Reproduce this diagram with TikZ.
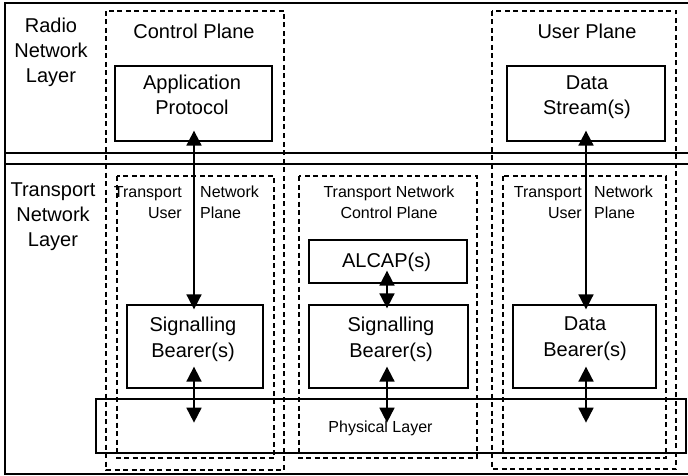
\documentclass[tikz,border=0pt]{standalone}
\usepackage{fontspec}
\setmainfont{Liberation Sans}
\usetikzlibrary{arrows.meta,calc}
\tikzset{
  frameline/.style={line width=1.8pt},
  layerline/.style={line width=1.3pt},
  box/.style={draw, line width=1.3pt, inner sep=0pt},
  group/.style={draw, dash pattern=on 5pt off 3.5pt, line width=1.2pt},
  big/.style={font=\fontsize{20}{25}\selectfont, align=center, inner sep=0pt},
  bigw/.style={font=\fontsize{20}{26}\selectfont, align=center, inner sep=0pt},
  small/.style={font=\fontsize{16}{21}\selectfont, inner sep=0pt},
  link/.style={line width=1.8pt,
    {Triangle[width=15pt,length=15pt]}-{Triangle[width=15pt,length=15pt]}},
}
\begin{document}
\begin{tikzpicture}[x=1pt,y=-1pt]
\useasboundingbox (0,0) rectangle (688,476);

% outer frame (open on the right) and layer separator
\draw[frameline] (688,3) -- (5,3) -- (5,474) -- (688,474);
\draw[layerline] (5,153) -- (688,153);
\draw[layerline] (5,164) -- (688,164);

% layer titles
\node[big] (rnl) at (51,52) {Radio\\Network\\Layer};
\node[big] (tnl) at (53,217) {Transport\\Network\\Layer};

% plane groups
\draw[group] (106,11) rectangle (284,470);
\draw[group] (492,11) rectangle (676,469);
\draw[group] (117,176) rectangle (274,458);
\draw[group] (299,176) rectangle (477,458);
\draw[group] (503,176) rectangle (666,458);

\node[big] (cpt) at (194,31) {Control Plane};
\node[big] (upt) at (587,31) {User Plane};

% group captions in the transport layer
\node[small, align=right, anchor=east] (tnu1a) at (182,202.4) {Transport\\User};
\node[small, align=left, anchor=west] (tnu1b) at (200,202.4) {Network\\Plane};
\node[small, align=center] (tncp) at (389,202.5) {Transport Network\\Control Plane};
\node[small, align=right, anchor=east] (tnu2a) at (582,202.4) {Transport\\User};
\node[small, align=left, anchor=west] (tnu2b) at (594,202.4) {Network\\Plane};

% protocol boxes
\node[box, minimum width=157pt, minimum height=75pt] (app) at (193.5,103.5) {};
\node[box, minimum width=158pt, minimum height=75pt] (dstream) at (586,103.5) {};
\node[box, minimum width=136pt, minimum height=83pt] (sb1) at (195,346.5) {};
\node[box, minimum width=158pt, minimum height=43pt] (alcap) at (388,261.5) {};
\node[box, minimum width=159pt, minimum height=83pt] (sb2) at (388.5,346.5) {};
\node[box, minimum width=143pt, minimum height=83pt] (db) at (584.5,346.5) {};
\node[box, minimum width=590pt, minimum height=54pt, line width=1.1pt] (phys) at (391,426) {};

\node[big] (appt) at (192,95.3) {Application\\Protocol};
\node[big] (dstreamt) at (587,97.4) {Data\\Stream(s)};
\node[bigw] (sb1t) at (193,339) {Signalling\\Bearer(s)};
\node[big] (alcapt) at (386.5,262) {ALCAP(s)};
\node[bigw] (sb2t) at (391,339) {Signalling\\Bearer(s)};
\node[bigw] (dbt) at (585,339) {Data\\Bearer(s)};
\node[small] (physt) at (380.5,428.6) {Physical Layer};

% links between layers
\draw[link] ($(app.south)+(0.5,-11)$) -- ($(app.south |- sb1.north)+(0.5,5)$);
\draw[link] ($(app.south |- sb1.south)+(0.5,-22)$) -- ($(app.south |- sb1.south)+(0.5,34)$);
\draw[link] ($(alcap.south)+(-1,-13)$) -- ($(alcap.south |- sb2.north)+(-1,4)$);
\draw[link] ($(alcap.south |- sb2.south)+(-1,-22)$) -- ($(alcap.south |- sb2.south)+(-1,34)$);
\draw[link] ($(dstream.south)+(0,-11)$) -- ($(dstream.south |- db.north)+(0,5)$);
\draw[link] ($(dstream.south |- db.south)+(0,-22)$) -- ($(dstream.south |- db.south)+(0,34)$);
\end{tikzpicture}
\end{document}
